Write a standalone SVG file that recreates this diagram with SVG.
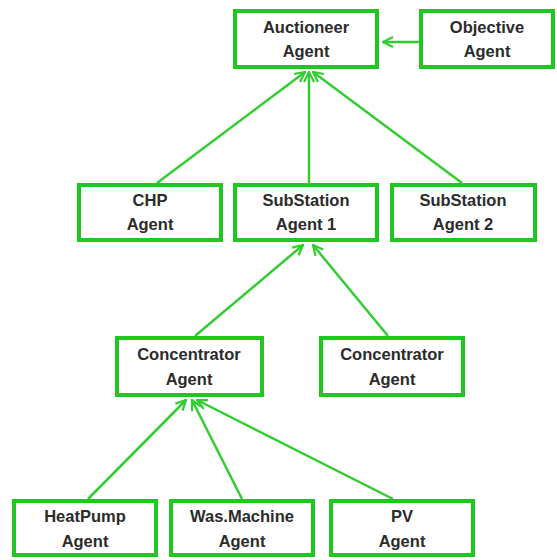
<svg xmlns="http://www.w3.org/2000/svg" width="557" height="560" viewBox="0 0 557 560">
  <style>
    .box { fill: #ffffff; stroke: #1fc81f; stroke-width: 4; }
    .lbl { font-family: "Liberation Sans", Arial, sans-serif; font-weight: bold; font-size: 16.5px; fill: #2b2b2b; text-anchor: middle; }
    .edge { stroke: #33cc33; stroke-width: 2.5; fill: none; marker-end: url(#open); }
  </style>
  <defs>
    <marker id="open" viewBox="0 0 12 12" refX="11" refY="6" markerWidth="12" markerHeight="12" markerUnits="userSpaceOnUse" orient="auto">
      <path d="M1,1 L11,6 L1,11" fill="none" stroke="#33cc33" stroke-width="2.2"/>
    </marker>
  </defs>
  <rect width="557" height="560" fill="#ffffff"/>

  <g id="connectors">
    <line class="edge" x1="421" y1="42" x2="383" y2="42"/>
    <line class="edge" x1="157" y1="183" x2="305" y2="72"/>
    <line class="edge" x1="309" y1="183" x2="309" y2="72"/>
    <line class="edge" x1="462" y1="183" x2="313" y2="72"/>
    <line class="edge" x1="195" y1="336" x2="303" y2="245"/>
    <line class="edge" x1="388" y1="336" x2="313" y2="245"/>
    <line class="edge" x1="88" y1="499" x2="186" y2="400"/>
    <line class="edge" x1="242" y1="499" x2="192" y2="400"/>
    <line class="edge" x1="393" y1="499" x2="197" y2="400"/>
  </g>

  <g id="auctioneer">
    <rect class="box" x="235" y="11" width="142" height="56"/>
    <text class="lbl" x="306" y="33">Auctioneer</text>
    <text class="lbl" x="306" y="57">Agent</text>
  </g>
  <g id="objective">
    <rect class="box" x="421" y="11" width="132" height="56"/>
    <text class="lbl" x="487" y="33">Objective</text>
    <text class="lbl" x="487" y="57">Agent</text>
  </g>
  <g id="chp">
    <rect class="box" x="79" y="185" width="142" height="55"/>
    <text class="lbl" x="150" y="206">CHP</text>
    <text class="lbl" x="150" y="230">Agent</text>
  </g>
  <g id="substation1">
    <rect class="box" x="235" y="185" width="142" height="55"/>
    <text class="lbl" x="306" y="206">SubStation</text>
    <text class="lbl" x="306" y="230">Agent 1</text>
  </g>
  <g id="substation2">
    <rect class="box" x="392" y="185" width="143" height="55"/>
    <text class="lbl" x="463" y="206">SubStation</text>
    <text class="lbl" x="463" y="230">Agent 2</text>
  </g>
  <g id="concentrator1">
    <rect class="box" x="117" y="338" width="145" height="57"/>
    <text class="lbl" x="189" y="360">Concentrator</text>
    <text class="lbl" x="189" y="385">Agent</text>
  </g>
  <g id="concentrator2">
    <rect class="box" x="321" y="338" width="142" height="57"/>
    <text class="lbl" x="392" y="360">Concentrator</text>
    <text class="lbl" x="392" y="385">Agent</text>
  </g>
  <g id="heatpump">
    <rect class="box" x="14" y="501" width="142" height="54"/>
    <text class="lbl" x="85" y="522">HeatPump</text>
    <text class="lbl" x="85" y="547">Agent</text>
  </g>
  <g id="wasmachine">
    <rect class="box" x="171" y="501" width="142" height="54"/>
    <text class="lbl" x="242" y="522">Was.Machine</text>
    <text class="lbl" x="242" y="547">Agent</text>
  </g>
  <g id="pv">
    <rect class="box" x="331" y="501" width="142" height="54"/>
    <text class="lbl" x="402" y="522">PV</text>
    <text class="lbl" x="402" y="547">Agent</text>
  </g>
</svg>
